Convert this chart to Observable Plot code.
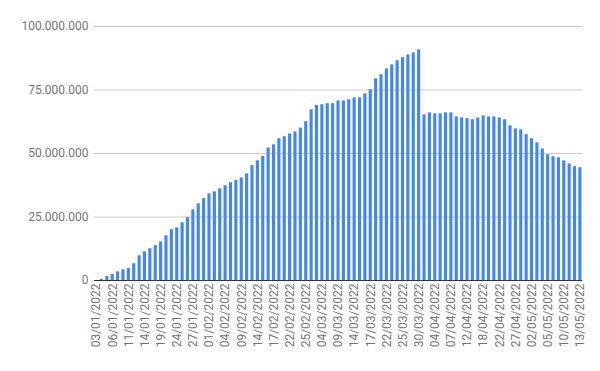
<!DOCTYPE html>
<html>
<head>
<meta charset="utf-8">
<script src="https://cdn.jsdelivr.net/npm/d3@7"></script>
<script src="https://cdn.jsdelivr.net/npm/@observablehq/plot@0.6"></script>
<style>
  html, body { margin: 0; padding: 0; background: #fff; }
  #chart { width: 600px; height: 371px; }
</style>
</head>
<body>
<div id="chart"></div>
<script>
const dates = [
  "03/01/2022","04/01/2022","05/01/2022","06/01/2022","07/01/2022",
  "10/01/2022","11/01/2022","12/01/2022","13/01/2022","14/01/2022",
  "17/01/2022","18/01/2022","19/01/2022","20/01/2022","21/01/2022",
  "24/01/2022","25/01/2022","26/01/2022","27/01/2022","28/01/2022",
  "31/01/2022","01/02/2022","02/02/2022","03/02/2022","04/02/2022",
  "07/02/2022","08/02/2022","09/02/2022","10/02/2022","11/02/2022",
  "14/02/2022","15/02/2022","16/02/2022","17/02/2022","18/02/2022",
  "21/02/2022","22/02/2022","23/02/2022","24/02/2022","25/02/2022",
  "02/03/2022","03/03/2022","04/03/2022","07/03/2022","08/03/2022",
  "09/03/2022","10/03/2022","11/03/2022","14/03/2022","15/03/2022",
  "16/03/2022","17/03/2022","18/03/2022","21/03/2022","22/03/2022",
  "23/03/2022","24/03/2022","25/03/2022","28/03/2022","29/03/2022",
  "30/03/2022","31/03/2022","01/04/2022","04/04/2022","05/04/2022",
  "06/04/2022","07/04/2022","08/04/2022","11/04/2022","12/04/2022",
  "13/04/2022","14/04/2022","18/04/2022","19/04/2022","20/04/2022",
  "22/04/2022","25/04/2022","26/04/2022","27/04/2022","28/04/2022",
  "29/04/2022","02/05/2022","03/05/2022","04/05/2022","05/05/2022",
  "06/05/2022","09/05/2022","10/05/2022","11/05/2022","12/05/2022",
  "13/05/2022"
];
const values = [
  0, 400000, 1600000, 2400000, 3400000,
  4200000, 4700000, 6600000, 9700000, 11300000,
  12500000, 13700000, 15200000, 17600000, 20000000,
  20700000, 22700000, 24700000, 27800000, 30200000,
  32200000, 34100000, 34900000, 36100000, 37300000,
  38500000, 39400000, 40400000, 42000000, 45200000,
  47100000, 48900000, 52200000, 53400000, 55800000,
  56600000, 57700000, 58500000, 60000000, 62500000,
  67200000, 68900000, 69200000, 69600000, 69600000,
  70700000, 70700000, 71100000, 71900000, 71900000,
  73500000, 75100000, 79400000, 81000000, 83300000,
  84900000, 86500000, 87700000, 88800000, 89600000,
  90800000, 65200000, 66000000, 65600000, 65600000,
  66000000, 66000000, 64400000, 64000000, 63700000,
  63300000, 64000000, 64800000, 64400000, 64400000,
  64000000, 63300000, 60900000, 59700000, 59300000,
  57400000, 55800000, 54200000, 51800000, 49500000,
  48700000, 48300000, 47100000, 45900000, 44800000,
  44400000
];
const yTicks = [0, 25000000, 50000000, 75000000, 100000000];
const xTickLabels = dates.filter((d, i) => i % 3 === 0);

const data = dates.map((d, i) => ({date: d, value: values[i]}));
const ptBR = d3.formatLocale({decimal: ",", thousands: ".", grouping: [3], currency: ["R$", ""]});
const fmt = ptBR.format(",d");

const chart = Plot.plot({
  width: 600,
  height: 371,
  marginLeft: 94,
  marginRight: 18,
  marginTop: 26,
  marginBottom: 91,
  style: {fontFamily: "Roboto", fontSize: "12px", color: "#757575", background: "#fff"},
  x: {type: "band", domain: dates, paddingInner: 0.42, paddingOuter: 0.1},
  y: {domain: [0, 100000000]},
  marks: [
    Plot.gridY(yTicks, {stroke: "#ccc", strokeOpacity: 1}),
    Plot.barY(data, {x: "date", y: "value", fill: "#4285f4"}),
    Plot.ruleY([0], {stroke: "#333", strokeWidth: 1.2}),
    Plot.axisY(yTicks, {tickSize: 0, tickPadding: 6, tickFormat: fmt, label: null, fill: "#757575", fontSize: 12}),
    Plot.axisX(xTickLabels, {tickSize: 0, tickPadding: 3, tickRotate: -90, label: null, fill: "#757575", fontSize: 12})
  ]
});
document.getElementById("chart").appendChild(chart);
</script>
</body>
</html>
